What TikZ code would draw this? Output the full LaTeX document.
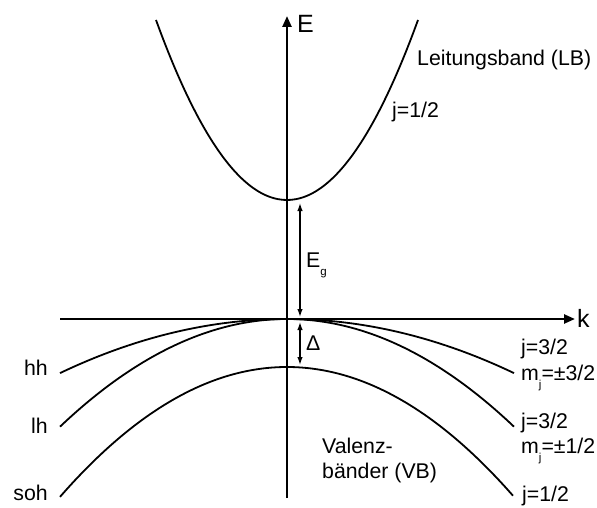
\documentclass[tikz,border=0pt]{standalone}
\usepackage{fontspec}
\setmainfont{Liberation Sans}
\usetikzlibrary{arrows.meta, positioning}

% lowered index (E_g, m_j)
\newcommand{\lowidx}[1]{\raisebox{-8pt}{\fontsize{11.5}{12}\selectfont #1}}

\tikzset{
  axis/.style={line width=2.4pt, -{Triangle[length=11pt,width=9pt]}},
  band/.style={line width=1.8pt, smooth},
  gap/.style={line width=1.3pt, {Latex[length=8pt,width=5.5pt]}-{Latex[length=8pt,width=5.5pt]}},
  txt/.style={font=\fontsize{21.3}{25}\selectfont, inner sep=0pt},
  axlbl/.style={font=\fontsize{25}{30}\selectfont, inner sep=0pt},
}

\begin{document}
\begin{tikzpicture}[x=1pt, y=-1pt]
    \useasboundingbox (0,0) rectangle (597,508);

    % Axes
    \coordinate (Ebot) at (287,498);
    \coordinate (Etop) at (287,16);
    \coordinate (kleft) at (60,319);
    \coordinate (kright) at (575,319);
    \draw[axis] (Ebot) -- (Etop);
    \draw[axis] (kleft) -- (kright);
    \node[axlbl, anchor=west] (Elbl) at (297,24) {E};
    \node[axlbl, anchor=west] (klbl) at (577,318) {k};

    % Conduction band (k scaled by 1/10 to keep numbers small)
    \draw[band] plot[domain=156:418, samples=61] (\x, {200-1.0489*((\x-287)/10)^2});

    % Valence bands: hh, lh, soh
    \draw[band] plot[domain=60:514, samples=61] (\x, {319+0.105*((\x-287)/10)^2});
    \draw[band] plot[domain=60:514, samples=61] (\x, {319+0.209*((\x-287)/10)^2});
    \draw[band] plot[domain=60:513, samples=61] (\x, {367+0.252*((\x-287)/10)^2});

    % Gap and split-off arrows
    \coordinate (cbmin) at (300,203);
    \coordinate (vbmax) at (300,317);
    \coordinate (vbtop) at (300,322);
    \coordinate (sohmax) at (300,365);
    \draw[gap] (cbmin) -- (vbmax);
    \draw[gap] (vbtop) -- (sohmax);
    \node[txt, anchor=base west] (Eg) at (306,267) {E\lowidx{g}};
    \node[txt, anchor=base west] (Dl) at (306,350) {Δ};

    % Conduction band labels
    \node[txt, anchor=base west] (LB) at (417,66) {Leitungsband (LB)};
    \node[txt, anchor=base west] (cbj) at (392,118) {j=1/2};

    % Valence band labels, left
    \node[txt, anchor=base east] (hh) at (48,375) {hh};
    \node[txt, anchor=base east] (lh) at (48,433) {lh};
    \node[txt, anchor=base east] (soh) at (48,500) {soh};

    % Valence band labels, right
    \node[txt, anchor=base west] (hhj) at (521,354) {j=3/2};
    \node[txt, anchor=base west] (hhm) at (521,380) {m\lowidx{j}=±3/2};
    \node[txt, anchor=base west] (lhj) at (521,428) {j=3/2};
    \node[txt, anchor=base west] (lhm) at (521,453) {m\lowidx{j}=±1/2};
    \node[txt, anchor=base west] (sohj) at (522,501) {j=1/2};

    \node[txt, anchor=base west] (VBa) at (322,453) {Valenz-};
    \node[txt, anchor=base west] (VBb) at (322,478) {bänder (VB)};

\end{tikzpicture}
\end{document}
